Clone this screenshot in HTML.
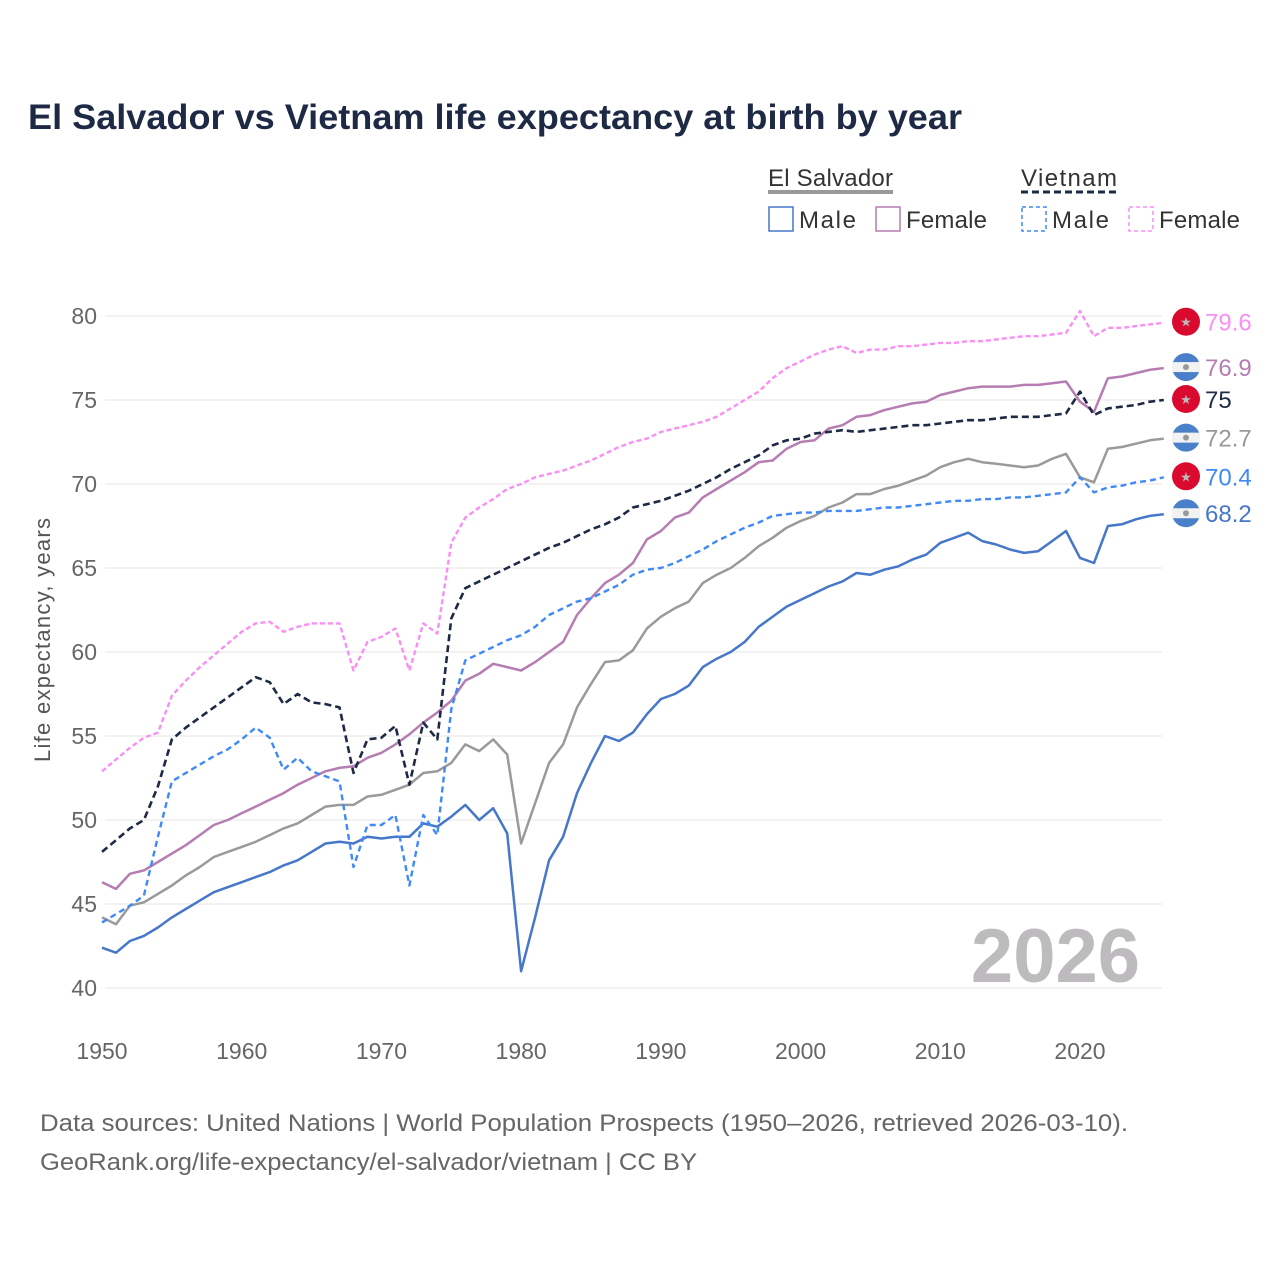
<!DOCTYPE html>
<html><head><meta charset="utf-8">
<style>
html,body{margin:0;padding:0;background:#fff;}
body{width:1280px;height:1280px;position:relative;font-family:"Liberation Sans",sans-serif;overflow:hidden;}
svg text{font-family:"Liberation Sans",sans-serif;}
</style></head>
<body>
<svg id="chart" width="1280" height="1280" viewBox="0 0 1280 1280">
  <text x="28" y="129" font-size="35" font-weight="bold" fill="#1e2a45" textLength="934" lengthAdjust="spacingAndGlyphs">El Salvador vs Vietnam life expectancy at birth by year</text>
  <g>
    <text x="768" y="186" font-size="24" fill="#333" textLength="125">El Salvador</text>
    <line x1="768" y1="192" x2="893" y2="192" stroke="#999" stroke-width="4"/>
    <text x="1021" y="186" font-size="24" fill="#333" textLength="96">Vietnam</text>
    <line x1="1021" y1="192" x2="1117" y2="192" stroke="#1e2a45" stroke-width="3" stroke-dasharray="7,4"/>
    <g><rect x="769" y="207" width="24" height="24" fill="none" stroke="#4677c8" stroke-width="1.5"/><text x="799" y="228" font-size="24" fill="#333" textLength="57">Male</text></g>
    <g><rect x="876" y="207" width="24" height="24" fill="none" stroke="#b67db2" stroke-width="1.5"/><text x="906" y="228" font-size="24" fill="#333" textLength="81">Female</text></g>
    <g><rect x="1022" y="207" width="24" height="24" fill="none" stroke="#3f8af7" stroke-width="1.5" stroke-dasharray="4,3"/><text x="1052" y="228" font-size="24" fill="#333" textLength="57">Male</text></g>
    <g><rect x="1129" y="207" width="24" height="24" fill="none" stroke="#f98ef3" stroke-width="1.5" stroke-dasharray="4,3"/><text x="1159" y="228" font-size="24" fill="#333" textLength="81">Female</text></g>
  </g>
  <g id="grid"></g>
  <g id="yticks"></g>
  <g id="xticks"></g>
  <text transform="translate(50,640) rotate(-90)" text-anchor="middle" font-size="22" fill="#555" textLength="244">Life expectancy, years</text>
  <text x="1140" y="982" text-anchor="end" font-size="76" font-weight="bold" fill="#bdbbbd">2026</text>
  <g id="series"></g>
  <g id="endlabels"></g>
  <text x="40" y="1131" font-size="24" fill="#666" textLength="1088" lengthAdjust="spacingAndGlyphs">Data sources: United Nations | World Population Prospects (1950–2026, retrieved 2026-03-10).</text>
  <text x="40" y="1170" font-size="24" fill="#666" textLength="657" lengthAdjust="spacingAndGlyphs">GeoRank.org/life-expectancy/el-salvador/vietnam | CC BY</text>
</svg>
<script>
const startYear = 1950;
const yTicks = [40,45,50,55,60,65,70,75,80];
const xTicks = [1950,1960,1970,1980,1990,2000,2010,2020];
const vnFemale = [52.9,53.6,54.3,54.9,55.2,57.4,58.3,59.1,59.8,60.5,61.2,61.7,61.8,61.2,61.5,61.7,61.7,61.7,58.9,60.6,60.9,61.4,58.9,61.7,61.1,66.5,68.0,68.6,69.1,69.7,70.0,70.4,70.6,70.8,71.1,71.4,71.8,72.2,72.5,72.7,73.1,73.3,73.5,73.7,74.0,74.5,75.0,75.5,76.3,76.9,77.3,77.7,78.0,78.2,77.8,78.0,78.0,78.2,78.2,78.3,78.4,78.4,78.5,78.5,78.6,78.7,78.8,78.8,78.9,79.0,80.3,78.8,79.3,79.3,79.4,79.5,79.6];
const vnTotal = [48.1,48.8,49.5,50.0,52.0,54.8,55.5,56.1,56.7,57.3,57.9,58.5,58.2,56.9,57.5,57.0,56.9,56.7,52.8,54.8,54.9,55.6,52.1,55.8,54.8,62.0,63.8,64.2,64.6,65.0,65.4,65.8,66.2,66.5,66.9,67.3,67.6,68.0,68.6,68.8,69.0,69.3,69.6,70.0,70.4,70.9,71.3,71.7,72.3,72.6,72.7,73.0,73.1,73.2,73.1,73.2,73.3,73.4,73.5,73.5,73.6,73.7,73.8,73.8,73.9,74.0,74.0,74.0,74.1,74.2,75.5,74.1,74.5,74.6,74.7,74.9,75.0];
const vnMale = [43.9,44.4,44.9,45.5,49.0,52.3,52.8,53.3,53.8,54.2,54.8,55.5,54.9,53.0,53.7,52.9,52.6,52.3,47.2,49.7,49.7,50.3,46.1,50.3,49.1,56.6,59.5,59.9,60.3,60.7,61.0,61.5,62.2,62.6,63.0,63.2,63.6,64.0,64.6,64.9,65.0,65.3,65.7,66.1,66.6,67.0,67.4,67.7,68.1,68.2,68.3,68.3,68.4,68.4,68.4,68.5,68.6,68.6,68.7,68.8,68.9,69.0,69.0,69.1,69.1,69.2,69.2,69.3,69.4,69.5,70.4,69.5,69.8,69.9,70.1,70.2,70.4];
const esFemale = [46.3,45.9,46.8,47.0,47.5,48.0,48.5,49.1,49.7,50.0,50.4,50.8,51.2,51.6,52.1,52.5,52.9,53.1,53.2,53.7,54.0,54.5,55.1,55.8,56.4,57.1,58.3,58.7,59.3,59.1,58.9,59.4,60.0,60.6,62.2,63.2,64.1,64.6,65.3,66.7,67.2,68.0,68.3,69.2,69.7,70.2,70.7,71.3,71.4,72.1,72.5,72.6,73.3,73.5,74.0,74.1,74.4,74.6,74.8,74.9,75.3,75.5,75.7,75.8,75.8,75.8,75.9,75.9,76.0,76.1,74.9,74.3,76.3,76.4,76.6,76.8,76.9];
const esTotal = [44.2,43.8,44.9,45.1,45.6,46.1,46.7,47.2,47.8,48.1,48.4,48.7,49.1,49.5,49.8,50.3,50.8,50.9,50.9,51.4,51.5,51.8,52.1,52.8,52.9,53.4,54.5,54.1,54.8,53.9,48.6,51.0,53.4,54.5,56.7,58.1,59.4,59.5,60.1,61.4,62.1,62.6,63.0,64.1,64.6,65.0,65.6,66.3,66.8,67.4,67.8,68.1,68.6,68.9,69.4,69.4,69.7,69.9,70.2,70.5,71.0,71.3,71.5,71.3,71.2,71.1,71.0,71.1,71.5,71.8,70.4,70.1,72.1,72.2,72.4,72.6,72.7];
const esMale = [42.4,42.1,42.8,43.1,43.6,44.2,44.7,45.2,45.7,46.0,46.3,46.6,46.9,47.3,47.6,48.1,48.6,48.7,48.6,49.0,48.9,49.0,49.0,49.8,49.6,50.2,50.9,50.0,50.7,49.2,41.0,44.2,47.6,49.0,51.6,53.4,55.0,54.7,55.2,56.3,57.2,57.5,58.0,59.1,59.6,60.0,60.6,61.5,62.1,62.7,63.1,63.5,63.9,64.2,64.7,64.6,64.9,65.1,65.5,65.8,66.5,66.8,67.1,66.6,66.4,66.1,65.9,66.0,66.6,67.2,65.6,65.3,67.5,67.6,67.9,68.1,68.2];

const NS = "http://www.w3.org/2000/svg";
function xs(yr){ return 102 + (yr - 1950) * (978 / 70); }
function ys(v){ return 316 + (80 - v) * 16.8; }
function mk(tag, attrs, parent){ const e = document.createElementNS(NS, tag); for (const k in attrs) e.setAttribute(k, attrs[k]); parent.appendChild(e); return e; }

const grid = document.getElementById('grid'), yt = document.getElementById('yticks'), xt = document.getElementById('xticks');
yTicks.forEach(v => {
  const l = mk('line', {x1:105, x2:1162, y1:ys(v), y2:ys(v), stroke:'#e6e6e6', 'stroke-width':1}, grid);
  
  
  const t = mk('text', {x:97, y:ys(v)+8, 'text-anchor':'end', 'font-size':23, fill:'#666'}, yt);
  t.textContent = v;
  
  
});
xTicks.forEach(yr => {
  const t = mk('text', {x:xs(yr), y:1059, 'text-anchor':'middle', 'font-size':23, fill:'#666'}, xt);
  t.textContent = yr;
  
  
});

const seriesDefs = [
  {name:'es-male', data:esMale, color:'#4677c8', dash:null, w:2.5, label:'#4677c8', flag:'es'},
  {name:'es-total', data:esTotal, color:'#9a9a9a', dash:null, w:2.5, label:'#999', flag:'es'},
  {name:'es-female', data:esFemale, color:'#b67db2', dash:null, w:2.5, label:'#b67db2', flag:'es'},
  {name:'vn-male', data:vnMale, color:'#3f8af7', dash:'6,4', w:2.4, label:'#3f8af7', flag:'vn'},
  {name:'vn-total', data:vnTotal, color:'#1e2a45', dash:'7,4', w:2.6, label:'#1e2a45', flag:'vn'},
  {name:'vn-female', data:vnFemale, color:'#f98ef3', dash:'5,3', w:2.4, label:'#f98ef3', flag:'vn'}
];
const sg = document.getElementById('series'), eg = document.getElementById('endlabels');
seriesDefs.forEach(s => {
  const d = s.data.map((v,i) => (i ? 'L' : 'M') + xs(startYear+i).toFixed(1) + ',' + ys(v).toFixed(1)).join(' ');
  const attrs = {d:d, fill:'none', stroke:s.color, 'stroke-width':s.w, 'stroke-linejoin':'round'};
  if (s.dash) attrs['stroke-dasharray'] = s.dash;
  const p = mk('path', attrs, sg);
  
  
  const last = s.data[s.data.length-1];
  const cy = ys(last) - 1;
  const g = mk('g', {}, eg);
  
  
  if (s.flag === 'vn') {
    mk('circle', {cx:1186, cy:cy, r:14, fill:'#da0a2f'}, g);
    const st = mk('text', {x:1186, y:cy+5, 'text-anchor':'middle', 'font-size':13, fill:'#bbb'}, g);
    st.textContent = '★';
  } else {
    mk('circle', {cx:1186, cy:cy, r:14, fill:'#4a7fc9'}, g);
    mk('rect', {x:1172, y:cy-5, width:28, height:10, fill:'#f2f2f2'}, g);
    mk('circle', {cx:1186, cy:cy, r:3, fill:'#999'}, g);
  }
  const t = mk('text', {x:1205, y:cy+9, 'font-size':24, fill:s.label}, g);
  t.textContent = last;
});
</script>
</body></html>
